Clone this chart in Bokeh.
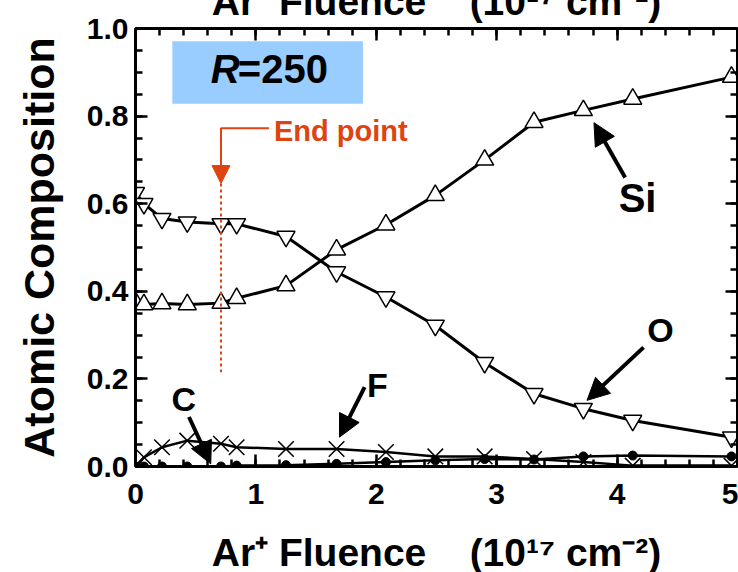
from bokeh.plotting import figure
from bokeh.models import (LinearAxis, Range1d, SingleIntervalTicker, PrintfTickFormatter,
                          CustomJSTickFormatter, Label, Arrow, NormalHead, BoxAnnotation)
from bokeh.embed import file_html
from bokeh.resources import INLINE

# ---- data ----
fluence = [0.0, 0.07, 0.22, 0.43, 0.71, 0.84, 1.25, 1.67, 2.08, 2.49, 2.90, 3.31, 3.72, 4.13, 4.95]
si_comp = [0.375, 0.370, 0.372, 0.370, 0.373, 0.384, 0.413, 0.495, 0.552, 0.619, 0.700, 0.786, 0.813, 0.839, 0.889]
o_comp = [0.625, 0.600, 0.566, 0.558, 0.554, 0.554, 0.525, 0.444, 0.387, 0.322, 0.237, 0.166, 0.132, 0.105, 0.067]
f_comp = [0.0, 0.021, 0.044, 0.059, 0.052, 0.044, 0.040, 0.040, 0.033, 0.023, 0.023, 0.017, 0.010, 0.002, 0.002]
c_comp = [0.0, 0.0, 0.0, 0.0, 0.0, 0.002, 0.003, 0.006, 0.010, 0.014, 0.017, 0.016, 0.023, 0.025, 0.023]

x_title = "Ar\u207a Fluence\u00a0\u00a0\u00a0\u00a0(10\u00b9\u2077 cm\u207b\u00b2)"
y_title = "Atomic Composition"
end_point_x = 0.71

FONT = "Liberation Sans"
ORANGE = "#dd4411"

# The canvas is taller than the window and shifted up so that the top axis
# title is cut off by the window's top edge, as in the reference.
SHIFT = 24
FRAME_H = 438
TOP = 28 + SHIFT
BOTTOM = 115
p = figure(width=738, height=TOP + FRAME_H + BOTTOM, x_range=Range1d(0, 5), y_range=Range1d(0, 1),
           output_backend="svg", toolbar_location=None,
           x_axis_location=None, y_axis_location=None,
           min_border_left=135, min_border_right=1, min_border_top=TOP, min_border_bottom=BOTTOM)
p.styles = {"margin-top": f"-{SHIFT}px"}
p.grid.visible = False
p.outline_line_color = None
p.background_fill_color = "white"


def style_axis(ax, show_labels):
    ax.axis_line_width = 3
    ax.axis_line_color = "black"
    ax.major_tick_line_width = 2.5
    ax.minor_tick_line_width = 2.5
    ax.major_tick_in = 12
    ax.major_tick_out = 0
    ax.minor_tick_in = 7
    ax.minor_tick_out = 0
    ax.major_label_text_font = FONT
    ax.major_label_text_font_style = "bold"
    ax.major_label_text_color = "black"
    ax.axis_label_text_font = FONT
    ax.axis_label_text_font_style = "bold"
    ax.axis_label_text_color = "black"
    if show_labels:
        ax.major_label_text_font_size = "30px"
    else:
        ax.major_label_text_font_size = "1px"
        ax.major_label_standoff = 0
        ax.formatter = CustomJSTickFormatter(code="return ''")


bottom = LinearAxis(ticker=SingleIntervalTicker(interval=1, num_minor_ticks=5), axis_label=x_title)
style_axis(bottom, True)
bottom.major_label_standoff = 17
bottom.axis_label_standoff = 24
bottom.axis_label_text_font_size = "39px"
p.add_layout(bottom, "below")

left = LinearAxis(ticker=SingleIntervalTicker(interval=0.2, num_minor_ticks=4),
                  formatter=PrintfTickFormatter(format="%.1f"), axis_label=y_title)
style_axis(left, True)
left.major_label_standoff = 7
left.axis_label_standoff = 21
left.axis_label_text_font_size = "43px"
p.add_layout(left, "left")

top = LinearAxis(ticker=SingleIntervalTicker(interval=1, num_minor_ticks=5), axis_label=x_title)
style_axis(top, False)
top.axis_label_standoff = 6
top.axis_label_text_font_size = "39px"
p.add_layout(top, "above")

right = LinearAxis(ticker=SingleIntervalTicker(interval=0.2, num_minor_ticks=4))
style_axis(right, False)
p.add_layout(right, "right")

# R=250 box
p.add_layout(BoxAnnotation(left=0.306, right=1.889, top=0.971, bottom=0.828,
                           fill_color="#99ccff", fill_alpha=1.0, line_color=None))
p.add_layout(Label(x=0.625, y=0.907, text="R", text_font=FONT, text_font_style="bold italic",
                   text_font_size="40px", text_baseline="alphabetic", text_color="black"))
p.add_layout(Label(x=0.85, y=0.907, text="=250", text_font=FONT, text_font_style="bold",
                   text_font_size="40px", text_baseline="alphabetic", text_color="black"))

# data lines
p.line(fluence, f_comp, line_color="black", line_width=2.5)
p.line(fluence, c_comp, line_color="black", line_width=2.5)
p.line(fluence, si_comp, line_color="black", line_width=3)
p.line(fluence, o_comp, line_color="black", line_width=3)

p.scatter(fluence, f_comp, marker="x", size=22, line_color="black", line_width=1.5)
p.scatter(fluence, c_comp, marker="circle", size=9, fill_color="black", line_color="black")
p.scatter(fluence, si_comp, marker="triangle", size=18, fill_color="white", line_color="black", line_width=1.5)
p.scatter(fluence, o_comp, marker="inverted_triangle", size=18, fill_color="white", line_color="black", line_width=1.5)

# end point marker
p.line([1.108, end_point_x, end_point_x], [0.772, 0.772, 0.70], line_color=ORANGE, line_width=2)
p.add_layout(Arrow(x_start=end_point_x, y_start=0.70, x_end=end_point_x, y_end=0.646,
                   line_color=ORANGE, line_width=2,
                   end=NormalHead(size=18, fill_color=ORANGE, line_color=ORANGE, line_width=1)))
p.line([end_point_x, end_point_x], [0.646, 0.215], line_color=ORANGE, line_width=2, line_dash="3 3")
p.add_layout(Label(x=1.15, y=0.765, text="End point", text_font=FONT, text_font_style="bold",
                   text_font_size="29px", text_baseline="alphabetic", text_color=ORANGE))

# element labels with arrows
labels = [("Si", 4.17, 0.612, "40px", 4.067, 0.660, 3.808, 0.785),
          ("O", 4.36, 0.312, "34px", 4.22, 0.272, 3.75, 0.151),
          ("C", 0.40, 0.154, "34px", 0.444, 0.113, 0.625, 0.006),
          ("F", 2.01, 0.185, "34px", 1.903, 0.181, 1.694, 0.067)]
for txt, lx, ly, fs, xs, ys, xe, ye in labels:
    p.add_layout(Label(x=lx, y=ly, text=txt, text_align="center", text_baseline="alphabetic",
                       text_font=FONT, text_font_style="bold", text_font_size=fs, text_color="black"))
    p.add_layout(Arrow(x_start=xs, y_start=ys, x_end=xe, y_end=ye, line_color="black", line_width=4,
                       end=NormalHead(size=22, fill_color="black", line_color="black", line_width=1)))

open("out.html", "w").write(file_html(p, INLINE))
